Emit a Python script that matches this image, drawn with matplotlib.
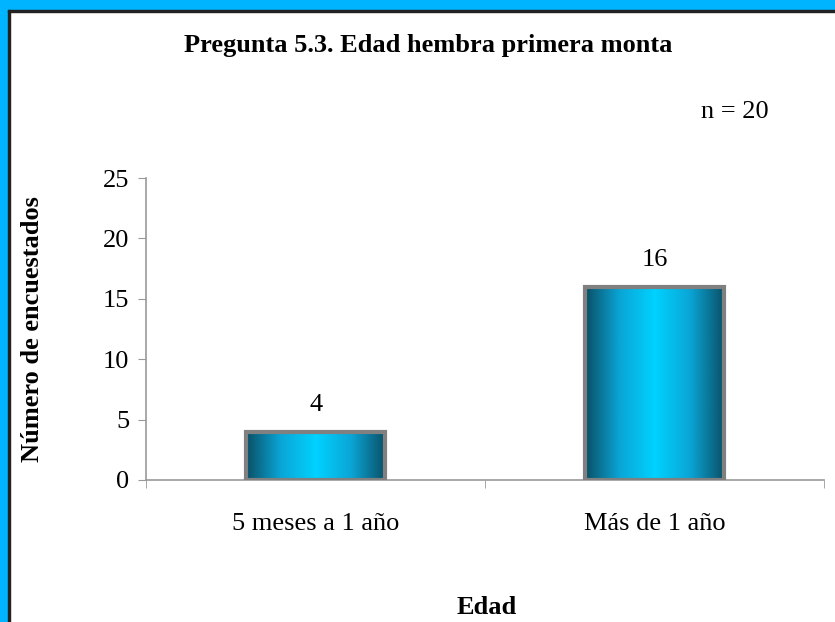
import numpy as np
import matplotlib.pyplot as plt
from matplotlib.colors import LinearSegmentedColormap
from matplotlib.patches import Rectangle

categories = ["5 meses a 1 año", "Más de 1 año"]
values = [4, 16]
title = "Pregunta 5.3. Edad hembra primera monta"
note = "n = 20"

plt.rcParams["font.family"] = ["Liberation Serif", "DejaVu Serif"]

fig = plt.figure(figsize=(8.35, 6.22), dpi=100)
ax = fig.add_axes([0.1749, 0.2283, 0.8121, 0.4855])

# frame like the original screenshot: blue band top and left
fig.patches.append(Rectangle((0, 1 - 10 / 622), 1, 10 / 622, transform=fig.transFigure,
                             color="#00b4ff", zorder=0))
fig.patches.append(Rectangle((0, 0), 8 / 835, 1, transform=fig.transFigure,
                             color="#00b4ff", zorder=0))
fig.patches.append(Rectangle((8 / 835, 0), 2 / 835, 1 - 10 / 622, transform=fig.transFigure,
                             color="#222222", zorder=0))
fig.patches.append(Rectangle((8 / 835, 1 - 12 / 622), 1, 2 / 622, transform=fig.transFigure,
                             color="#222222", zorder=0))

x = np.arange(len(categories))
width = 0.41
bars = ax.bar(x, values, width=width, color="none", edgecolor="#808080", linewidth=3, zorder=3)

cmap = LinearSegmentedColormap.from_list("cyl", ["#0a4f66", "#0aa6d6", "#00d2ff", "#0aa6d6", "#0a4f66"])
grad = np.linspace(0, 1, 256).reshape(1, -1)
for b in bars:
    im = ax.imshow(grad, cmap=cmap, aspect="auto", zorder=2,
                   extent=[b.get_x(), b.get_x() + b.get_width(), 0, b.get_height()])
    im.set_clip_path(b)

for xi, v in zip(x, values):
    ax.annotate(str(v), (xi, v), xytext=(0, 11), textcoords="offset points",
                ha="center", va="bottom", fontsize=19)

ax.set_xlim(-0.5, 1.5)
ax.set_ylim(0, 25)
ax.set_yticks(range(0, 26, 5))
ax.set_xticks(x)
ax.set_xticklabels(categories, fontsize=19)
ax.set_xticks([-0.5, 0.5, 1.5], minor=True)
ax.tick_params(axis="x", which="major", length=0, pad=24)
ax.tick_params(axis="x", which="minor", length=6, color="#999999", direction="out")
ax.tick_params(axis="y", labelsize=19, length=6, color="#999999", pad=6)

for s in ["top", "right"]:
    ax.spines[s].set_visible(False)
for s in ["left", "bottom"]:
    ax.spines[s].set_color("#999999")
    ax.spines[s].set_linewidth(1.2)

ax.set_ylabel("Número de encuestados", fontsize=19, fontweight="bold")
ax.yaxis.set_label_coords(-0.15, 0.5)
fig.text(0.513, 0.927, title, ha="center", va="center", fontsize=19, fontweight="bold")
fig.text(0.88, 0.82, note, ha="center", va="center", fontsize=19)
fig.text(0.583, 0.024, "Edad", ha="center", va="center", fontsize=19, fontweight="bold")

plt.savefig("out.png", dpi=100)
